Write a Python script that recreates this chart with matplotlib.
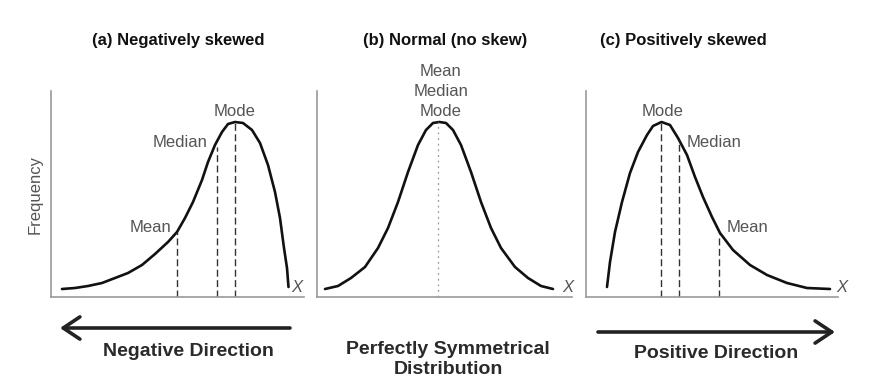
import matplotlib
matplotlib.use("Agg")
import matplotlib.pyplot as plt
from matplotlib.patches import FancyArrowPatch

plt.rcParams["font.family"] = ["Liberation Sans", "DejaVu Sans"]

W, H = 878, 389

# curve points: x (px) and height above the baseline (px)
neg_x = [62, 75, 88, 102, 115, 128, 142, 155, 168, 177, 185, 193, 202, 208,
         215, 222, 228, 235, 243, 252, 260, 268, 275, 280, 284, 287, 288.5]
neg_y = [8, 9, 11, 14, 19, 24, 32, 43, 55, 65, 79, 95, 117, 135,
         152, 165, 173, 175, 174, 167, 154, 132, 105, 79, 49, 29, 10]

norm_x = [325, 338, 351, 365, 378, 388, 398, 408, 418, 426, 433, 439.5,
          446, 453, 461, 471, 481, 491, 501, 515, 528, 541, 553]
norm_y = [8, 11, 19, 30, 49, 69, 95, 125, 152, 167, 174, 175,
          174, 167, 152, 125, 95, 69, 49, 30, 19, 11, 8]

pos_x = [607, 610, 615, 622, 630, 638, 647, 653, 661.5, 670, 678, 687, 695,
         703, 712, 720, 733, 750, 767, 787, 807, 830]
pos_y = [10, 35, 65, 95, 124, 145, 162, 171, 175, 172, 159, 142, 120,
         100, 80, 64, 47, 32, 22, 14, 9, 8]

# dashed marker lines: label, x, height where it meets the curve
neg_marks = [("Mean", 176.7, 65), ("Median", 216.7, 150), ("Mode", 235, 175)]
pos_marks = [("Mode", 661, 175), ("Median", 679, 157), ("Mean", 719.3, 63)]
norm_mark = (438.5, 175)

# axes boxes in px: left, right
panels = [(51, 304), (317, 572), (586, 838)]
TOP, BASE = 91, 297

fig = plt.figure(figsize=(W / 100, H / 100), dpi=100)


def fx(x):
    return x / W


def fy(y):
    return 1 - y / H


axes = []
for left, right in panels:
    ax = fig.add_axes([fx(left), fy(BASE), (right - left) / W, (BASE - TOP) / H])
    ax.set_xlim(left, right)
    ax.set_ylim(0, BASE - TOP)
    for s in ["top", "right"]:
        ax.spines[s].set_visible(False)
    for s in ["left", "bottom"]:
        ax.spines[s].set_color("#9a9a9a")
        ax.spines[s].set_linewidth(1.2)
    ax.set_xticks([])
    ax.set_yticks([])
    ax.patch.set_alpha(0)
    axes.append(ax)

ax_a, ax_b, ax_c = axes
LBL = dict(color="#555555", fontsize=12, ha="center", va="center")
DASH = dict(color="#333333", lw=1, linestyle=(0, (5, 2.5)))
CURVE = dict(color="#111111", lw=1.9, solid_capstyle="round", solid_joinstyle="round")

# (a) negatively skewed
ax_a.plot(neg_x, neg_y, **CURVE)
for name, x, h in neg_marks:
    ax_a.plot([x, x], [0, h], **DASH)
ax_a.text(151, 69, "Mean", **LBL)
ax_a.text(180, 155, "Median", **LBL)
ax_a.text(235, 186, "Mode", **LBL)
ax_a.set_ylabel("Frequency", color="#555555", fontsize=12, labelpad=6)

# (b) normal
ax_b.plot(norm_x, norm_y, **CURVE)
ax_b.plot([norm_mark[0], norm_mark[0]], [0, norm_mark[1]], color="#999999",
          lw=0.9, linestyle=(0, (1.5, 3)))
for i, name in enumerate(["Mean", "Median", "Mode"]):
    ax_b.text(441, 225 - 20 * i, name, **LBL)

# (c) positively skewed
ax_c.plot(pos_x, pos_y, **CURVE)
for name, x, h in pos_marks:
    ax_c.plot([x, x], [0, h], **DASH)
ax_c.text(663, 186, "Mode", **LBL)
ax_c.text(714, 155, "Median", **LBL)
ax_c.text(747, 69, "Mean", **LBL)

# X markers at the end of each axis
for xm in [297, 568, 842]:
    fig.text(fx(xm), fy(287), "X", color="#555555", fontsize=12,
             style="italic", ha="center", va="center")

# titles
for xt, t in [(178, "(a) Negatively skewed"), (445, "(b) Normal (no skew)"),
              (683, "(c) Positively skewed")]:
    fig.text(fx(xt), fy(40), t, fontsize=12, fontweight="bold",
             ha="center", va="center", color="#111111")

# direction arrows and captions
arrow = dict(arrowstyle="->,head_length=0.6,head_width=0.4", lw=2.6,
             color="#222222", mutation_scale=20, shrinkA=0, shrinkB=0)
fig.add_artist(FancyArrowPatch((fx(290), fy(328)), (fx(60), fy(328)),
                               transform=fig.transFigure, **arrow))
fig.add_artist(FancyArrowPatch((fx(598), fy(332)), (fx(835), fy(332)),
                               transform=fig.transFigure, **arrow))

CAP = dict(fontsize=14, fontweight="bold", color="#2a2a2a", ha="center", va="center")
fig.text(fx(188), fy(352), "Negative Direction", **CAP)
fig.text(fx(448), fy(349), "Perfectly Symmetrical", **CAP)
fig.text(fx(448), fy(370), "Distribution", **CAP)
fig.text(fx(716), fy(354), "Positive Direction", **CAP)

fig.savefig("out.png", dpi=100)
